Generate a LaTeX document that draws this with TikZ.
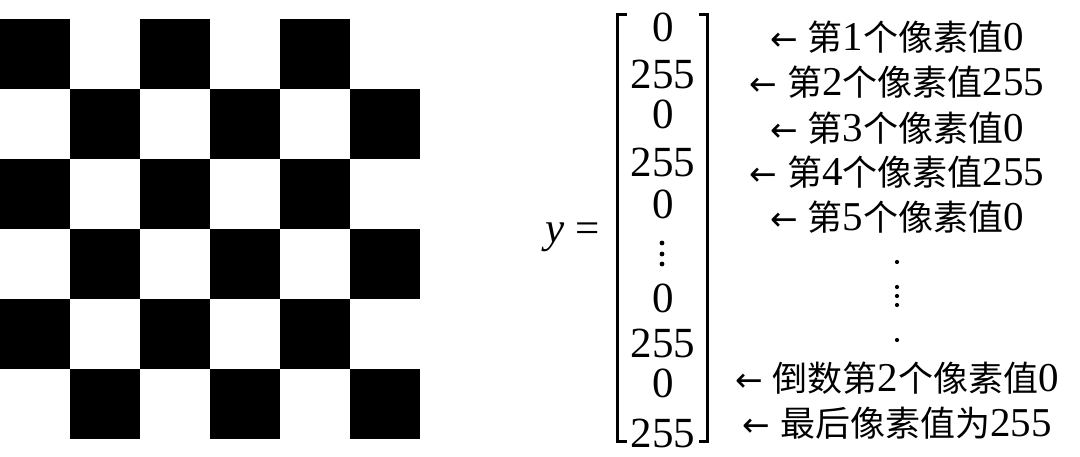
\documentclass[tikz,border=0pt]{standalone}
\usepackage{fontspec}
\setmainfont{Liberation Serif}
\newfontfamily\cjk{Noto Sans CJK SC}
\newfontfamily\sym{DejaVu Sans}
\usetikzlibrary{positioning, calc}

% Chinese part of a label
\newcommand{\zh}[1]{{\fontsize{35}{42}\selectfont\cjk #1}}
\newcommand{\larr}{{\fontsize{33}{40}\selectfont\sym ←}}
% label for one pixel value
\newcommand{\pxval}[2]{\larr\ \zh{第}#1\zh{个像素值}#2}

\begin{document}
\begin{tikzpicture}[x=1pt, y=-1pt,
    cell/.style={fill=black},
    entry/.style={inner sep=0pt, font=\fontsize{43}{50}\selectfont},
    pixlbl/.style={inner sep=0pt, font=\fontsize{41}{48}\selectfont},
    brack/.style={line width=3pt}]

    \useasboundingbox (0,0) rectangle (1080,457);

    % checkerboard 6x6
    \foreach \r in {0,...,5}
      \foreach \c in {0,...,5} {
        \pgfmathtruncatemacro{\s}{\r+\c}
        \ifodd\s\else
          \fill[cell] (70*\c,19+70*\r) rectangle ++(70,70);
        \fi
      }

    % column vector
    \node[entry, anchor=base east] (lhs) at (600,243) {\textit{y} =};
    \foreach \v/\yy [count=\i] in {0/27, 255/74, 0/114, 255/162, 0/204,
                                   0/298, 255/343, 0/383, 255/433}
      \node[entry] (v\i) at (663,\yy) {\v};
    \foreach \yy in {243,254,264}
      \fill (662,\yy) circle (2.4);

    \coordinate (lt) at (617,15);
    \coordinate (lb) at (617,441);
    \coordinate (rt) at (707,15);
    \coordinate (rb) at (707,441);
    \draw[brack] ($(lt)+(10,0)$) -- (lt) -- (lb) -- ++(10,0);
    \draw[brack] ($(rt)+(-8,0)$) -- (rt) -- (rb) -- ++(-8,0);

    % labels
    \node[pixlbl] (p1) at (897,37) {\pxval{1}{0}};
    \node[pixlbl] (p2) at (897,82) {\pxval{2}{255}};
    \node[pixlbl] (p3) at (897,128) {\pxval{3}{0}};
    \node[pixlbl] (p4) at (897,172) {\pxval{4}{255}};
    \node[pixlbl] (p5) at (897,217) {\pxval{5}{0}};
    \foreach \yy in {262,287,296,305,340}
      \fill (897,\yy) circle (2.1);
    \node[pixlbl] (pn1) at (897,378) {\larr\ \zh{倒数第}2\zh{个像素值}0};
    \node[pixlbl] (pn) at (897,423) {\larr\ \zh{最后像素值为}255};
\end{tikzpicture}
\end{document}
